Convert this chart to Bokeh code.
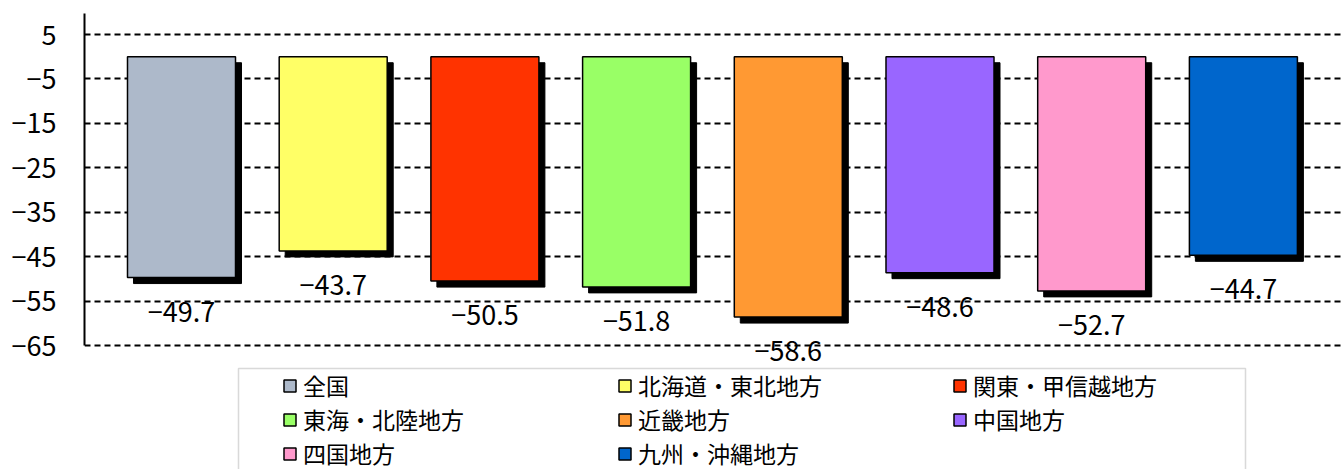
from bokeh.plotting import figure
from bokeh.models import (ColumnDataSource, Range1d, FixedTicker, Legend, LegendItem,
                          BoxAnnotation)
from bokeh.core.properties import value
from bokeh.embed import file_html
from bokeh.resources import INLINE

categories = ["全国", "北海道・東北地方", "関東・甲信越地方", "東海・北陸地方",
              "近畿地方", "中国地方", "四国地方", "九州・沖縄地方"]
values = [-49.7, -43.7, -50.5, -51.8, -58.6, -48.6, -52.7, -44.7]
colors = ["#ADB9CA", "#FFFF66", "#FF3300", "#99FF66",
          "#FF9933", "#9966FF", "#FF99CC", "#0066CC"]
y_ticks = [5, -5, -15, -25, -35, -45, -55, -65]

FONT = "Noto Sans CJK JP"
W, H = 1343, 469
LEFT, TOP = 84, 13
frame_w = W - LEFT
frame_h = H - TOP
px_x = 151.7          # px per category
px_y = 4.443          # px per unit
x0 = -(181 - LEFT) / px_x
y_top = 9.73
y_bot = y_top - frame_h / px_y

xs = list(range(len(categories)))
sh_dx = 6 / px_x
sh_dy = 6 / px_y
src = ColumnDataSource(dict(
    x=xs, v=values, c=colors, cat=categories,
    xs=[x + sh_dx for x in xs],
    vs=[v - sh_dy for v in values],
    ts=[-sh_dy for _ in values],
    lbl=["\u2212" + f"{abs(v):.1f}" for v in values],
))

p = figure(width=W, height=H, output_backend="svg", toolbar_location=None,
           x_range=Range1d(x0, x0 + frame_w / px_x), y_range=Range1d(y_bot, y_top),
           min_border_left=LEFT, min_border_right=0, min_border_top=TOP,
           min_border_bottom=0, outline_line_color=None)

p.xaxis.visible = False
p.xgrid.visible = False
ya = p.yaxis[0]
ya.ticker = FixedTicker(ticks=y_ticks)
ya.bounds = (-65, y_top)
ya.axis_line_width = 2
ya.axis_line_color = "black"
ya.major_tick_out = 0
ya.major_tick_in = 0
ya.minor_tick_out = 0
ya.minor_tick_in = 0
ya.major_label_standoff = 28
ya.major_label_text_font = FONT
ya.major_label_text_font_size = "27px"
ya.major_label_text_color = "black"
ya.major_label_overrides = {t: ("\u2212" + str(abs(t)) if t < 0 else str(t)) for t in y_ticks}

p.ygrid.ticker = FixedTicker(ticks=y_ticks)
p.ygrid.grid_line_color = "black"
p.ygrid.grid_line_width = 2
p.ygrid.grid_line_dash = "6 4"

# shadows
p.vbar(x="xs", top="ts", bottom="vs", width=0.712, source=src,
       fill_color="black", line_color="black")
bars = p.vbar(x="x", top=0, bottom="v", width=0.712, source=src,
              fill_color="c", line_color="black", line_width=1.5)

p.text(x="x", y="v", text="lbl", source=src, text_align="center",
       text_baseline="middle", y_offset=34, text_font=value(FONT),
       text_font_size="27px", text_color="black")

items = [LegendItem(label=c, renderers=[bars], index=i) for i, c in enumerate(categories)]
legend = Legend(items=items, location=(198, -1), orientation="horizontal", ncols=3,
                label_text_font=FONT, label_text_font_size="23px",
                label_text_color="black",
                glyph_width=15, glyph_height=15, label_height=33, label_width=314,
                label_standoff=6, spacing=0, padding=0, margin=0,
                border_line_alpha=0, background_fill_alpha=0)
p.add_layout(legend, "center")

box = BoxAnnotation(left=154, right=1161, top=101, bottom=-20,
                    left_units="screen", right_units="screen",
                    top_units="screen", bottom_units="screen",
                    fill_alpha=0, line_color="#808080", line_width=1.5)
p.add_layout(box)

open("out.html", "w").write(file_html(p, INLINE))
